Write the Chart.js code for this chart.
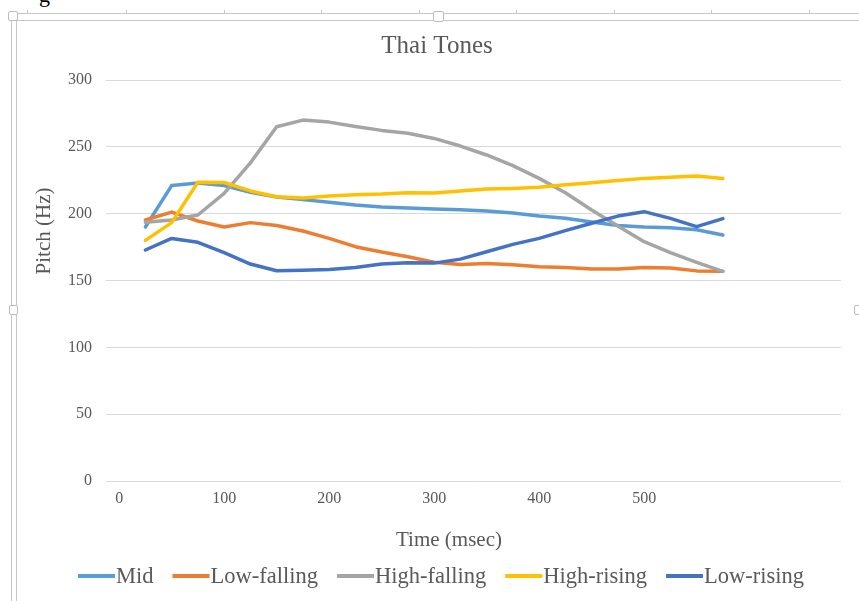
<!DOCTYPE html>
<html>
<head>
<meta charset="utf-8">
<title>Thai Tones</title>
<script src="https://cdn.jsdelivr.net/npm/chart.js@4"></script>
<style>
  html, body { margin: 0; padding: 0; background: #ffffff; }
  #wrap { position: relative; width: 859px; height: 601px; overflow: hidden; background: #ffffff; }
  #chart { position: absolute; left: 0; top: 0; }
  .rule { position: absolute; background: #c6c6c6; }
  .tick { position: absolute; width: 1px; height: 3px; top: 10px; background: #c6c6c6; }
  .handle { position: absolute; background: #ffffff; border: 1px solid #bdbdbd; border-radius: 2px; box-sizing: border-box; }
  .cut { position: absolute; font-family: "Liberation Serif", serif; font-size: 22px; color: #000; }
</style>
</head>
<body>
<div id="wrap">
  <span class="cut" style="left:39px; top:-18px;">g</span>
  <!-- frame around the embedded chart -->
  <div class="rule" style="left:10px; top:13px; width:849px; height:1px;"></div>
  <div class="rule" style="left:16px; top:20px; width:843px; height:1px;"></div>
  <div class="rule" style="left:11px; top:13px; width:1px; height:588px;"></div>
  <div class="rule" style="left:16px; top:20px; width:1px; height:581px;"></div>
  <div class="tick" style="left:27px;"></div>
  <div class="tick" style="left:126px;"></div>
  <div class="tick" style="left:224px;"></div>
  <div class="tick" style="left:321px;"></div>
  <div class="tick" style="left:419px;"></div>
  <div class="tick" style="left:516px;"></div>
  <div class="tick" style="left:614px;"></div>
  <div class="tick" style="left:711px;"></div>
  <div class="tick" style="left:809px;"></div>
  <div class="handle" style="left:8px; top:11px; width:10px; height:10px;"></div>
  <div class="handle" style="left:433px; top:11px; width:11px; height:11px;"></div>
  <div class="handle" style="left:9px; top:305px; width:9px; height:10px;"></div>
  <div class="handle" style="left:854px; top:305px; width:9px; height:10px;"></div>
  <canvas id="chart" width="859" height="601"></canvas>
</div>
<script>
// Time points (msec) and mean pitch (Hz) for each Thai tone
const times = [25, 50, 75, 100, 125, 150, 175, 200, 225, 250, 275, 300,
               325, 350, 375, 400, 425, 450, 475, 500, 525, 550, 575];

const mid         = [190, 221, 223, 221, 216, 212.5, 210.5, 208.5, 206.5, 205, 204.2, 203.5,
                     203, 202, 200.5, 198.2, 196.5, 193.7, 191.2, 190, 189.5, 188, 184];
const lowFalling  = [195.3, 201.2, 194.5, 190, 193.3, 191.2, 187, 181.5, 175.3, 171.3, 167.8, 163.6,
                     162, 162.8, 161.8, 160.3, 159.8, 158.6, 158.6, 159.8, 159.3, 157.2, 157];
const highFalling = [193.5, 195.3, 199, 215.2, 238, 265, 270, 268.5, 265.2, 262.3, 260.2, 256.3,
                     250.6, 243.9, 235.9, 226.4, 215.7, 202.7, 190.8, 179, 170.8, 163.6, 156.8];
const highRising  = [180, 193.3, 223.5, 223.3, 217, 212.7, 211.7, 213.2, 214.2, 214.7, 215.7, 215.5,
                     217, 218.4, 218.9, 219.7, 221.7, 223.2, 224.8, 226.4, 227.2, 228.2, 226.3];
const lowRising   = [172.8, 181.5, 178.6, 170.8, 162.3, 157.3, 157.6, 158.3, 159.8, 162.3, 163.3, 163,
                     166, 171.5, 177, 181.5, 187.3, 192.8, 198.2, 201.5, 196.5, 190.3, 196.3];

const seriesNames  = ["Mid", "Low-falling", "High-falling", "High-rising", "Low-rising"];
const seriesValues = [mid, lowFalling, highFalling, highRising, lowRising];
const seriesColors = ["#5B9BD5", "#ED7D31", "#A5A5A5", "#FFC000", "#4472C4"];

const xTickValues = [0, 100, 200, 300, 400, 500];

const chartTitle = "Thai Tones";
const xTitle = "Time (msec)";
const yTitle = "Pitch (Hz)";

const SERIF = '"Liberation Serif", "Times New Roman", serif';
const TEXT_COLOR = "#595959";

const datasets = seriesNames.map((name, i) => ({
  label: name,
  data: times.map((t, j) => ({ x: t, y: seriesValues[i][j] })),
  borderColor: seriesColors[i],
  backgroundColor: seriesColors[i],
  borderWidth: 3.5,
  pointRadius: 0,
  tension: 0,
  borderJoinStyle: "round",
  borderCapStyle: "round",
  fill: false,
  order: seriesNames.length - i   // later series sit on top
}));

// Title, axis titles and legend drawn in the Office layout
const decorations = {
  id: "decorations",
  afterDraw(chart) {
    const ctx = chart.ctx;
    ctx.save();
    ctx.fillStyle = TEXT_COLOR;
    ctx.textBaseline = "middle";
    ctx.textAlign = "center";

    ctx.font = "25px " + SERIF;
    ctx.fillText(chartTitle, 437, 46);

    ctx.font = "21px " + SERIF;
    ctx.fillText(xTitle, 449, 540);

    ctx.save();
    ctx.translate(44, 231);
    ctx.rotate(-Math.PI / 2);
    ctx.fillText(yTitle, 0, 0);
    ctx.restore();

    // legend
    ctx.font = "22.5px " + SERIF;
    ctx.textAlign = "left";
    const lineLen = 37, textGap = 1, itemGap = 19, legendY = 576;
    const widths = chart.data.datasets.map(d => lineLen + textGap + ctx.measureText(d.label).width);
    const total = widths.reduce((a, b) => a + b, 0) + itemGap * (widths.length - 1);
    let x = 441 - total / 2;
    chart.data.datasets.forEach((d, i) => {
      ctx.strokeStyle = d.borderColor;
      ctx.lineWidth = 4;
      ctx.lineCap = "butt";
      ctx.beginPath();
      ctx.moveTo(x, legendY);
      ctx.lineTo(x + lineLen, legendY);
      ctx.stroke();
      ctx.fillStyle = TEXT_COLOR;
      ctx.fillText(d.label, x + lineLen + textGap, legendY + 1);
      x += widths[i] + itemGap;
    });
    ctx.restore();
  }
};

new Chart(document.getElementById("chart"), {
  type: "line",
  data: { datasets },
  plugins: [decorations],
  options: {
    responsive: false,
    animation: false,
    devicePixelRatio: 1,
    layout: { padding: { left: 0, top: 80, right: 18, bottom: 90 } },
    plugins: {
      legend: { display: false },
      title: { display: false },
      tooltip: { enabled: false }
    },
    scales: {
      x: {
        type: "linear",
        min: -12.5,
        max: 687.5,
        afterBuildTicks(scale) { scale.ticks = xTickValues.map(v => ({ value: v })); },
        afterFit(scale) { scale.height = 30; },
        grid: { display: false, drawTicks: false },
        border: { display: false },
        ticks: {
          padding: 8,
          color: TEXT_COLOR,
          font: { family: SERIF, size: 16 },
          maxRotation: 0,
          autoSkip: false,
          callback: v => String(v)
        }
      },
      y: {
        min: 0,
        max: 300,
        afterFit(scale) { scale.width = 106; },
        grid: { color: "#d9d9d9", lineWidth: 1, drawTicks: false },
        border: { display: false },
        ticks: {
          stepSize: 50,
          padding: 14,
          color: TEXT_COLOR,
          font: { family: SERIF, size: 16 }
        }
      }
    }
  }
});
</script>
</body>
</html>
